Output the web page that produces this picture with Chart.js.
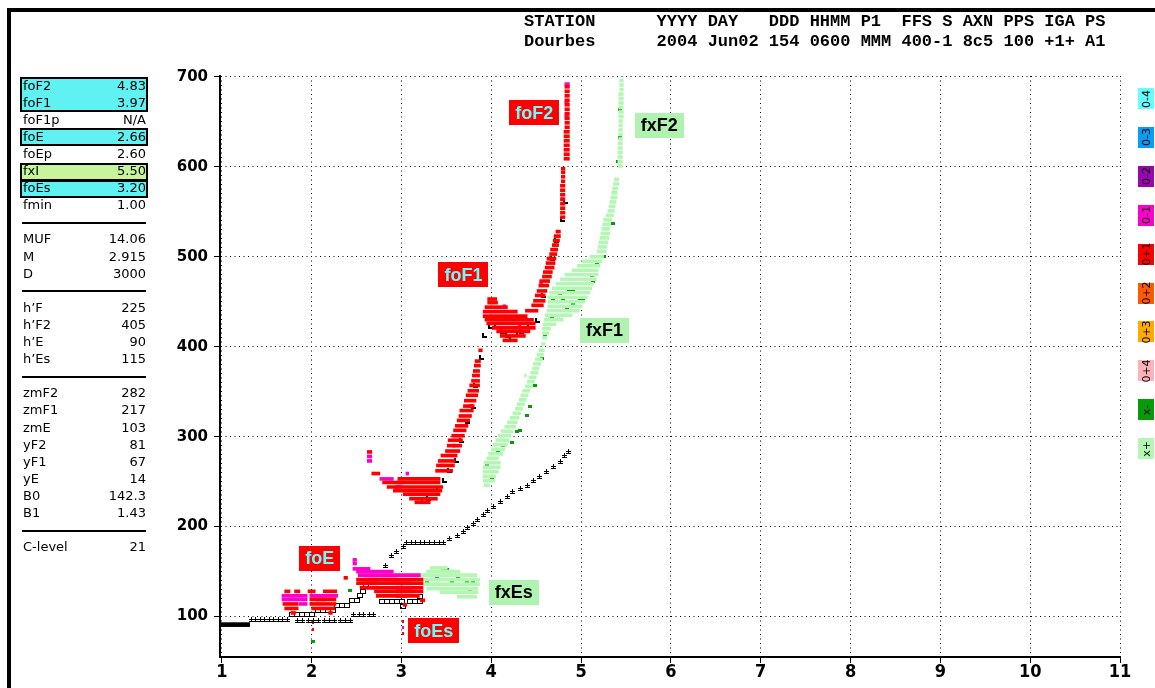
<!DOCTYPE html>
<html>
<head>
<meta charset="utf-8">
<title>Ionogram Dourbes 2004 Jun02 0600</title>
<script src="https://cdn.jsdelivr.net/npm/chart.js@4.4.1/dist/chart.umd.min.js"></script>
<style>
  html, body { margin: 0; padding: 0; background: #fff; }
  #page { position: relative; width: 1155px; height: 688px; overflow: hidden; background: #fff; }
  #ionogram { position: absolute; left: 0; top: 0; }
  .frame { position: absolute; background: #000; }
  #header { position: absolute; left: 524px; top: 12px; font: bold 17px "Liberation Mono", "DejaVu Sans Mono", monospace; line-height: 20px; white-space: pre; color: #000; }
  .row { position: absolute; left: 23px; width: 123px; height: 17px; line-height: 17px; font: 13px "DejaVu Sans", sans-serif; color: #000; white-space: pre; }
  .row .v { position: absolute; right: 0; top: 0; }
  .box { position: absolute; left: 20px; width: 128px; border: 2px solid #000; box-sizing: border-box; }
  .sep { position: absolute; left: 22px; width: 124px; height: 2px; background: #000; }
  .sw { position: absolute; left: 1138px; width: 16px; height: 21px; }
  .sw span { position: absolute; left: 50%; top: 50%; transform: translate(-50%, -50%) rotate(-90deg); font: 11px "DejaVu Sans", sans-serif; white-space: nowrap; color: #000; }
</style>
</head>
<body>
<div id="page">
  <canvas id="ionogram" width="1155" height="688"></canvas>
  <div class="frame" style="left:7px;top:8px;width:1148px;height:4px"></div>
  <div class="frame" style="left:7px;top:8px;width:4px;height:680px"></div>
  <div id="header"></div>
  <div id="panel"></div>
  <div id="scaleKey"></div>
</div>
<script>
// =============================================================================
// Ionogram - Dourbes 2004 Jun02 06:00
// =============================================================================

// ---------------------------------------------------------------------------
// Data (f in MHz, h' in km)
// ---------------------------------------------------------------------------
const FREQ_TICKS = [1, 2, 3, 4, 5, 6, 7, 8, 9, 10, 11];
const HEIGHT_TICKS = [100, 200, 300, 400, 500, 600, 700];

// echo rows: [h', f start, f end]
const oRed = [
  // F1 cusp bottom
  [283, 2.62, 2.67], [259, 2.67, 2.76], [253, 2.96, 3.43], [249, 2.79, 3.43], [244, 2.84, 3.46],
  [240, 2.91, 3.45], [236, 3.02, 3.43], [231, 3.09, 3.40], [227, 3.15, 3.32],
  // rising branch
  [262, 3.38, 3.57], [268, 3.39, 3.59], [273, 3.41, 3.60], [279, 3.44, 3.62], [284, 3.49, 3.65],
  [290, 3.51, 3.67], [296, 3.52, 3.68], [301, 3.56, 3.70], [307, 3.58, 3.72], [312, 3.60, 3.74],
  [318, 3.62, 3.76], [323, 3.64, 3.78], [329, 3.65, 3.80], [334, 3.69, 3.81], [340, 3.70, 3.83],
  [346, 3.72, 3.85], [351, 3.74, 3.86], [357, 3.76, 3.87], [362, 3.78, 3.87], [368, 3.79, 3.87],
  [373, 3.80, 3.87], [379, 3.81, 3.88], [384, 3.82, 3.88], [396, 3.86, 3.90],
  // F1 hump
  [453, 3.96, 4.06], [449, 3.96, 4.07], [444, 3.93, 4.18], [439, 3.91, 4.29], [434, 3.91, 4.40],
  [430, 3.93, 4.47], [426, 3.95, 4.49], [421, 4.01, 4.49], [417, 4.06, 4.43], [412, 4.10, 4.38],
  [407, 4.13, 4.29],
  // F2 trace
  [440, 4.38, 4.52], [446, 4.45, 4.58], [451, 4.47, 4.60], [457, 4.49, 4.60], [462, 4.51, 4.62],
  [468, 4.53, 4.64], [473, 4.54, 4.65], [478, 4.57, 4.67], [483, 4.58, 4.68], [488, 4.60, 4.70],
  [493, 4.61, 4.71], [498, 4.62, 4.72], [503, 4.65, 4.73], [508, 4.66, 4.74], [513, 4.68, 4.75],
  [518, 4.69, 4.76], [523, 4.70, 4.77], [528, 4.72, 4.77],
  [544, 4.77, 4.82], [549, 4.77, 4.82], [554, 4.77, 4.82], [559, 4.77, 4.82], [564, 4.77, 4.82],
  [569, 4.77, 4.82], [574, 4.77, 4.82], [579, 4.77, 4.82], [584, 4.78, 4.82], [589, 4.78, 4.82],
  [594, 4.78, 4.82], [598, 4.78, 4.82],
  [609, 4.81, 4.87], [614, 4.81, 4.87], [619, 4.81, 4.87], [624, 4.81, 4.87], [629, 4.81, 4.87],
  [634, 4.81, 4.87], [639, 4.81, 4.87], [644, 4.82, 4.87], [649, 4.82, 4.87], [654, 4.82, 4.87],
  [659, 4.82, 4.87], [664, 4.82, 4.87], [669, 4.82, 4.87], [674, 4.82, 4.87], [679, 4.82, 4.87],
  [684, 4.82, 4.87], [689, 4.82, 4.87],
  // E layer
  [128, 1.70, 1.76], [128, 1.81, 1.87], [128, 1.96, 2.04], [128, 2.13, 2.28], [119, 1.98, 2.27],
  [114, 1.68, 1.85], [114, 1.98, 2.27], [109, 1.70, 1.85], [109, 2.00, 2.26], [104, 1.77, 1.82],
  [104, 2.19, 2.23],
  // Es
  [143, 2.36, 2.40], [141, 2.50, 3.24], [137, 2.50, 3.24], [132, 2.54, 3.24], [128, 2.70, 3.24],
  [123, 2.72, 3.20], [118, 3.21, 3.26], [113, 3.02, 3.06],
];

const oMagenta = [
  [278, 2.62, 2.67], [273, 2.62, 2.67], [253, 2.76, 2.91], [249, 2.95, 3.02], [244, 2.93, 2.99],
  [259, 3.05, 3.08], [290, 3.57, 3.60], [334, 3.75, 3.78], [452, 4.00, 4.03], [445, 4.13, 4.16],
  [425, 4.30, 4.33], [471, 4.54, 4.57], [498, 4.63, 4.66], [513, 4.70, 4.72], [564, 4.78, 4.81],
  [692, 4.82, 4.87], [672, 4.82, 4.86], [656, 4.82, 4.86],
  [123, 1.67, 1.95], [123, 1.98, 2.29], [119, 1.67, 1.95], [119, 2.05, 2.15], [114, 1.86, 1.95],
  [163, 2.46, 2.50], [159, 2.46, 2.50], [153, 2.46, 2.65], [150, 2.50, 2.91], [146, 2.52, 3.21],
  [141, 2.60, 2.95], [137, 2.55, 2.75], [137, 2.90, 3.10], [132, 2.62, 2.72], [132, 2.94, 3.12],
  [128, 2.94, 3.12], [123, 2.94, 3.06],
];

const xLight = [
  // fxEs
  [154, 3.32, 3.51], [150, 3.28, 3.65], [146, 3.21, 3.84], [141, 3.17, 3.87], [136, 3.21, 3.87],
  [131, 3.28, 3.85], [127, 3.43, 3.85], [122, 3.62, 3.84],
  // x trace F1
  [246, 3.92, 3.98], [251, 3.91, 4.04], [256, 3.91, 4.05], [261, 3.91, 4.08], [266, 3.91, 4.10],
  [271, 3.92, 4.10], [276, 3.95, 4.08], [281, 3.97, 4.13], [286, 4.00, 4.15], [291, 4.02, 4.18],
  [296, 4.05, 4.20], [301, 4.08, 4.22], [306, 4.11, 4.24], [311, 4.15, 4.27], [316, 4.18, 4.29],
  [321, 4.21, 4.31], [326, 4.24, 4.33], [331, 4.27, 4.35], [336, 4.29, 4.37], [341, 4.31, 4.39],
  [346, 4.33, 4.41], [351, 4.35, 4.43], [356, 4.38, 4.46], [361, 4.40, 4.48], [366, 4.42, 4.50],
  [371, 4.44, 4.52], [376, 4.46, 4.53], [381, 4.47, 4.55], [386, 4.49, 4.57], [391, 4.51, 4.58],
  [396, 4.53, 4.59], [403, 4.56, 4.60], [368, 4.37, 4.39],
  [410, 4.57, 4.62], [415, 4.57, 4.64], [420, 4.57, 4.66], [425, 4.58, 4.72], [430, 4.59, 4.80],
  [435, 4.60, 4.90], [440, 4.62, 4.98], [445, 4.63, 5.01], [450, 4.63, 5.04], [455, 4.63, 5.07],
  [460, 4.65, 5.10], [465, 4.68, 5.12], [470, 4.72, 5.14], [475, 4.77, 5.17], [480, 4.82, 5.19],
  [485, 4.90, 5.19], [490, 4.96, 5.21], [495, 5.01, 5.23], [500, 5.10, 5.25],
  // x trace F2
  [506, 5.18, 5.28], [511, 5.19, 5.29], [516, 5.20, 5.30], [521, 5.21, 5.31], [526, 5.22, 5.32],
  [531, 5.23, 5.32], [536, 5.24, 5.33], [541, 5.25, 5.34], [546, 5.28, 5.36], [551, 5.30, 5.37],
  [556, 5.31, 5.38], [561, 5.32, 5.39], [566, 5.33, 5.40], [571, 5.34, 5.40], [576, 5.35, 5.41],
  [581, 5.36, 5.42], [586, 5.37, 5.42],
  [601, 5.41, 5.46], [606, 5.41, 5.46], [611, 5.41, 5.46], [616, 5.41, 5.46], [621, 5.41, 5.46],
  [626, 5.41, 5.46], [631, 5.42, 5.46], [636, 5.42, 5.46], [641, 5.42, 5.46], [646, 5.42, 5.46],
  [651, 5.42, 5.46], [656, 5.42, 5.47], [661, 5.42, 5.47], [666, 5.42, 5.47], [671, 5.42, 5.47],
  [676, 5.42, 5.47], [681, 5.42, 5.47], [686, 5.43, 5.47], [691, 5.43, 5.47], [696, 5.43, 5.47],
];

const fminBar = [[91, 0.99, 1.31]];

// single marks: [f, h']
const xDark = [
  [3.95, 268], [3.96, 261], [4.01, 253], [4.08, 283], [4.13, 290], [4.23, 294], [4.29, 306],
  [4.32, 307], [4.40, 323], [4.43, 334], [4.49, 357], [4.57, 387], [4.60, 412], [4.63, 420],
  [4.68, 434], [4.69, 451], [4.77, 459], [4.80, 451], [4.86, 461], [4.91, 448], [4.99, 453],
  [5.13, 472], [4.84, 442], [4.91, 464], [5.02, 453], [5.12, 479], [5.18, 494], [5.25, 500],
  [5.29, 526], [5.35, 537], [5.38, 572], [5.41, 606], [5.43, 633], [5.43, 664],
  [3.21, 141], [3.28, 139], [3.40, 143], [3.46, 151], [3.51, 152], [3.56, 138], [3.63, 144],
  [3.73, 139], [3.80, 139], [3.82, 131], [3.76, 129], [2.43, 129], [2.01, 72],
];

const traceMarks = [
  [3.25, 228], [3.30, 231], [3.41, 242], [3.48, 251], [3.54, 262], [3.61, 273], [3.67, 296],
  [3.73, 317], [3.80, 334], [3.83, 357], [3.89, 388], [3.93, 412], [3.99, 423], [4.06, 423],
  [4.13, 417], [4.18, 412], [4.23, 409], [4.30, 414], [4.34, 417], [4.43, 422], [4.51, 429],
  [4.58, 457], [4.68, 498], [4.73, 518], [4.79, 542], [4.83, 562],
];

const profileCross = [
  [1.33, 97], [1.38, 97], [1.43, 97], [1.48, 97], [1.53, 97], [1.58, 97], [1.63, 97], [1.68, 97], [1.73, 97],
  [1.84, 96], [1.90, 96], [1.96, 96], [2.02, 96], [2.08, 96], [2.14, 96], [2.20, 96], [2.26, 96],
  [2.32, 96], [2.38, 96], [2.43, 96],
  [2.47, 102], [2.53, 102], [2.58, 102], [2.64, 102], [2.69, 102],
  [2.82, 157], [2.89, 168], [2.95, 172], [3.02, 178],
  [3.06, 182], [3.11, 182], [3.16, 182], [3.21, 182], [3.26, 182], [3.31, 182], [3.37, 182],
  [3.42, 182], [3.47, 182],
  [3.54, 187], [3.62, 190], [3.69, 194], [3.74, 199], [3.80, 203], [3.85, 208], [3.91, 213],
  [3.96, 218], [4.02, 222], [4.10, 228], [4.18, 233], [4.24, 239], [4.32, 242], [4.40, 246],
  [4.47, 251], [4.54, 256], [4.62, 261], [4.69, 267], [4.77, 272], [4.82, 279], [4.86, 283],
];

const eBoxes = [
  [1.78, 102], [1.84, 102], [1.89, 102], [1.95, 102], [2.00, 102], [2.07, 107], [2.13, 107],
  [2.18, 107], [2.24, 107], [2.28, 112], [2.34, 112], [2.39, 112], [2.45, 118], [2.50, 118],
  [2.54, 123], [2.57, 128], [2.60, 134], [2.64, 140],
  [2.78, 117], [2.84, 117], [2.89, 117], [2.95, 117], [3.01, 117], [3.09, 117], [3.15, 117],
  [3.21, 117], [3.02, 111], [3.21, 122],
];

const noiseRed = [[2.01, 93], [2.01, 86], [3.02, 95], [3.02, 81]];
const noiseMagenta = [[3.02, 88]];

// trace labels
const traceLabels = ["foF2", "fxF2", "foF1", "fxF1", "foE", "fxEs", "foEs"];
const traceLabelAt = [[4.48, 660], [5.87, 646], [3.69, 480], [5.26, 418], [2.09, 165], [4.25, 127], [3.36, 84]];
const traceLabelMode = ["o", "x", "o", "x", "o", "x", "o"];

// header
const headerNames  = "STATION      YYYY DAY   DDD HHMM P1  FFS S AXN PPS IGA PS";
const headerValues = "Dourbes      2004 Jun02 154 0600 MMM 400-1 8c5 100 +1+ A1";

// scaled characteristics ("-" = separator)
const panelNames  = ["foF2", "foF1", "foF1p", "foE", "foEp", "fxI", "foEs", "fmin", "-",
  "MUF", "M", "D", "-", "h\u2019F", "h\u2019F2", "h\u2019E", "h\u2019Es", "-",
  "zmF2", "zmF1", "zmE", "yF2", "yF1", "yE", "B0", "B1", "-", "C-level"];
const panelValues = ["4.83", "3.97", "N/A", "2.66", "2.60", "5.50", "3.20", "1.00", "",
  "14.06", "2.915", "3000", "", "225", "405", "90", "115", "",
  "282", "217", "103", "81", "67", "14", "142.3", "1.43", "", "21"];
const panelHighlight = [[0, 1, "#60f2f2"], [3, 3, "#60f2f2"], [5, 5, "#c6f59c"], [6, 6, "#60f2f2"]];

// amplitude / polarization key
const keyLabels = ["0-4", "0-3", "0-2", "0-1", "0+1", "0+2", "0+3", "0+4", "x-", "x+"];
const keyColors = ["#66ffff", "#0a9cf0", "#9a05b0", "#ff00cc", "#ff0000", "#ff5a00", "#ffaa00", "#ffb3b8", "#089a08", "#b4f7b4"];

// ---------------------------------------------------------------------------
// Text parts
// ---------------------------------------------------------------------------
document.getElementById("header").textContent = headerNames + "\n" + headerValues;

const ROW0 = 86, ROWH = 17.1;
const panel = document.getElementById("panel");
panelHighlight.forEach(([a, b, col]) => {
  const d = document.createElement("div");
  d.className = "box";
  d.style.top = (ROW0 + a * ROWH - 9) + "px";
  d.style.height = ((b - a + 1) * ROWH + 1) + "px";
  d.style.background = col;
  panel.appendChild(d);
});
panelNames.forEach((name, i) => {
  const y = ROW0 + i * ROWH;
  const d = document.createElement("div");
  if (name === "-") {
    d.className = "sep";
    d.style.top = (y - 1) + "px";
  } else {
    d.className = "row";
    d.style.top = (y - 8.5) + "px";
    d.innerHTML = `<span>${name}</span><span class="v">${panelValues[i]}</span>`;
  }
  panel.appendChild(d);
});

const keyBox = document.getElementById("scaleKey");
keyLabels.forEach((lab, i) => {
  const d = document.createElement("div");
  d.className = "sw";
  d.style.top = (88 + i * 38.9) + "px";
  d.style.background = keyColors[i];
  d.innerHTML = `<span>${lab}</span>`;
  keyBox.appendChild(d);
});

// ---------------------------------------------------------------------------
// Marker glyphs
// ---------------------------------------------------------------------------
function glyph(w, h, draw) {
  const c = document.createElement("canvas");
  c.width = w; c.height = h;
  draw(c.getContext("2d"));
  return c;
}
const markGlyph = glyph(5, 5, g => { g.fillStyle = "#000"; g.fillRect(0, 0, 2, 5); g.fillRect(0, 3, 5, 2); });
const crossGlyph = glyph(5, 5, g => { g.fillStyle = "#000"; g.fillRect(2, 0, 1, 5); g.fillRect(0, 2, 5, 1); g.fillRect(0, 4, 5, 1); });
const boxGlyph = glyph(6, 5, g => { g.strokeStyle = "#000"; g.lineWidth = 1; g.strokeRect(0.5, 0.5, 5, 4); });
const darkGlyph = glyph(4, 3, g => { g.fillStyle = "#089a08"; g.fillRect(0, 0, 4, 3); });
const redDot = glyph(2, 3, g => { g.fillStyle = "#ff0000"; g.fillRect(0, 0, 2, 3); });
const magDot = glyph(2, 3, g => { g.fillStyle = "#ff00cc"; g.fillRect(0, 0, 2, 3); });

const toBars = rows => rows.map(r => ({ y: r[0], x: [r[1], r[2]] }));
const toPts = pts => pts.map(p => ({ x: p[0], y: p[1] }));

function barSet(rows, color, thick) {
  return { type: "bar", indexAxis: "y", data: toBars(rows), backgroundColor: color,
    barThickness: thick, grouped: false, borderWidth: 0 };
}
function markSet(pts, style) {
  return { type: "scatter", data: toPts(pts), pointStyle: style, pointRadius: 3, showLine: false };
}

// ---------------------------------------------------------------------------
// Plugins
// ---------------------------------------------------------------------------
const crispMarks = {
  id: "crispMarks",
  beforeDatasetsDraw(chart) { chart.ctx.imageSmoothingEnabled = false; },
};

const traceLabelPlugin = {
  id: "traceLabels",
  afterDatasetsDraw(chart) {
    const { ctx, scales } = chart;
    ctx.save();
    ctx.font = 'bold 18px "Liberation Sans", Arial, sans-serif';
    ctx.textAlign = "center";
    ctx.textBaseline = "middle";
    traceLabels.forEach((t, i) => {
      const cx = scales.x.getPixelForValue(traceLabelAt[i][0]);
      const cy = scales.y.getPixelForValue(traceLabelAt[i][1]);
      const w = Math.round(ctx.measureText(t).width + 12);
      const isO = traceLabelMode[i] === "o";
      ctx.fillStyle = isO ? "#ff0000" : "#b0f2b0";
      ctx.fillRect(Math.round(cx - w / 2), Math.round(cy - 12.5), w, 25);
      ctx.fillStyle = isO ? "#66ffff" : "#000";
      ctx.fillText(t, cx, cy + 1);
    });
    ctx.restore();
  },
};

// ---------------------------------------------------------------------------
// Chart
// ---------------------------------------------------------------------------
new Chart(document.getElementById("ionogram"), {
  type: "scatter",
  data: {
    datasets: [
      barSet(oRed, "#ff0000", 3),
      barSet(oMagenta, "#ff00cc", 3),
      barSet(xLight, "#b4f7b4", 3),
      barSet(fminBar, "#000", 4),
      markSet(xDark, darkGlyph),
      markSet(eBoxes, boxGlyph),
      markSet(profileCross, crossGlyph),
      markSet(traceMarks, markGlyph),
      markSet(noiseRed, redDot),
      markSet(noiseMagenta, magDot),
    ],
  },
  options: {
    responsive: false,
    devicePixelRatio: 1,
    animation: false,
    events: [],
    layout: { padding: { left: 0, right: 35, top: 76, bottom: 0 } },
    plugins: { legend: { display: false }, tooltip: { enabled: false } },
    scales: {
      x: {
        type: "linear", position: "bottom", min: 0.98, max: 11, bounds: "data", offset: false,
        afterBuildTicks: s => { s.ticks = FREQ_TICKS.map(v => ({ value: v })); },
        afterFit: s => { s.height = 31; },
        ticks: {
          color: "#000", padding: 0, autoSkip: false, maxRotation: 0,
          font: { family: '"Liberation Sans Narrow", "DejaVu Sans Condensed", "Liberation Sans", sans-serif', weight: "bold", size: 18, lineHeight: 1 },
          callback: v => String(v),
        },
        grid: { color: "#000", lineWidth: 1, offset: false, drawTicks: true, tickLength: 6, tickColor: "#000", tickBorderDash: [] },
        border: { display: true, color: "#000", width: 2, dash: [1, 3.5] },
      },
      y: {
        type: "linear", position: "left", min: 55, max: 701, bounds: "data", offset: false,
        afterBuildTicks: s => { s.ticks = HEIGHT_TICKS.map(v => ({ value: v })); },
        afterFit: s => { s.width = 220; },
        ticks: {
          color: "#000", padding: 6,
          font: { family: '"DejaVu Sans", sans-serif', weight: "bold", size: 15 },
          callback: v => String(v),
        },
        grid: { color: "#000", lineWidth: 1, offset: false, drawTicks: true, tickLength: 6, tickColor: "#000", tickBorderDash: [] },
        border: { display: true, color: "#000", width: 2, dash: [1, 3.5] },
      },
    },
  },
  plugins: [crispMarks, traceLabelPlugin],
});
</script>
</body>
</html>
